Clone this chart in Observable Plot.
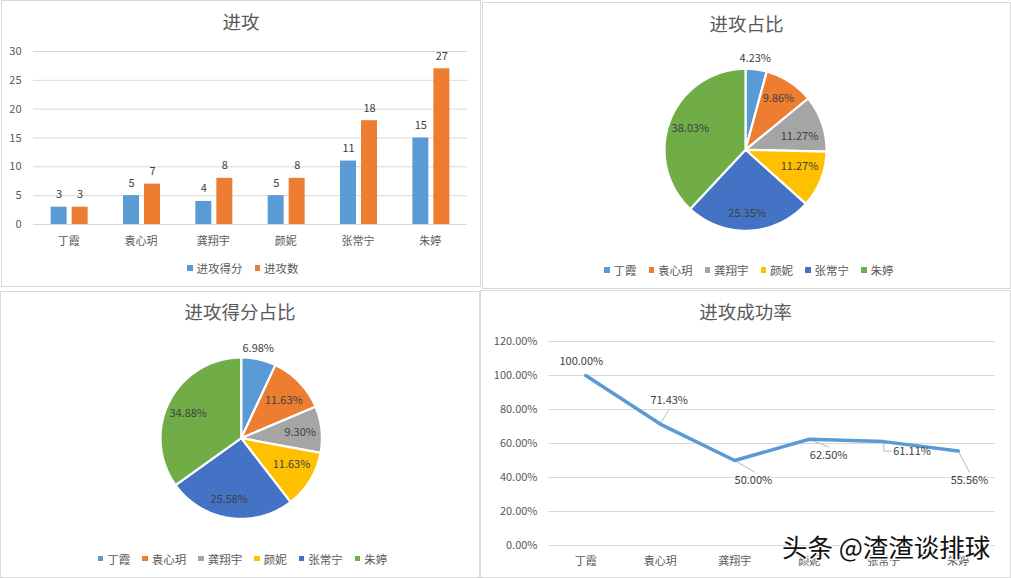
<!DOCTYPE html>
<html><head><meta charset="utf-8">
<script src="https://cdn.jsdelivr.net/npm/d3@7"></script>
<script src="https://cdn.jsdelivr.net/npm/@observablehq/plot@0.6"></script>
<style>
html,body{margin:0;padding:0;background:#fff;width:1011px;height:578px;overflow:hidden;font-family:"Noto Sans CJK SC","Noto Sans",sans-serif;}
.panel{position:absolute;box-sizing:border-box;border:1px solid #d9d9d9;background:#fff;}
.panel svg{position:absolute;left:0;top:0;}
.ttl{position:absolute;left:0;right:0;text-align:center;font-size:18.5px;line-height:24px;color:#595959;}
.leg{position:absolute;height:16px;display:flex;align-items:center;font-size:11.5px;line-height:16px;color:#595959;white-space:nowrap;}
.leg i{display:inline-block;width:5.5px;height:5.5px;margin-right:4px;}
.leg span{display:flex;align-items:center;}
#wm{position:absolute;left:782px;top:529px;font-size:25.5px;line-height:34px;color:#111;white-space:nowrap;-webkit-text-stroke:2.5px #fff;paint-order:stroke fill;font-weight:400;}
</style></head><body>
<script>
const names = ["丁霞","袁心玥","龚翔宇","颜妮","张常宁","朱婷"];
const attackScores = [3,5,4,5,11,15];
const attackCounts = [3,7,8,8,18,27];
const successRates = [100,71.43,50,62.5,61.11,55.56];
const sliceColors = ["#5B9BD5","#ED7D31","#A5A5A5","#FFC000","#4472C4","#70AD47"];
const countLabelX = [.12,.407,.667,.667,.02,-.68];
const countLabelY = [1.126,.632,.163,-.207,-.788,.258];
const scoreLabelX = [.211,.528,.731,.623,-.149,-.657];
const scoreLabelY = [1.11,.467,.071,-.326,-.763,.306];
const rateLabelX = [-.06,1.12,2.25,3.26,4.38,5.15];
const rateLabelY = [108.4,85.5,38.4,53.1,55.5,38.4];
const leaderPaths = [
  [[1,71.43],[1.11,79.6]],
  [[2,50],[2.26,43.3]],
  [[3,62.5],[3.26,58]],
  [[4,61.11],[4,55.5],[4.1,55.5]],
  [[5,55.56],[5.15,43.2]]
];
const FONT = '"Noto Sans CJK SC","Noto Sans",sans-serif';
const INK = "#595959", DARK = "#404040", GRID = "#d9d9d9";

function panel(x,y,w,h,title,titleTop){
  const p = document.createElement("div");
  p.className = "panel";
  p.style.cssText = `left:${x}px;top:${y}px;width:${w}px;height:${h}px`;
  const t = document.createElement("div");
  t.className = "ttl"; t.textContent = title; t.style.top = titleTop+"px";
  p.append(t);
  document.body.append(p);
  return p;
}
function legend(p,left,top,items){
  const l = document.createElement("div");
  l.className = "leg"; l.style.left = left+"px"; l.style.top = top+"px";
  items.forEach(([name,color],i)=>{
    const s = document.createElement("span");
    if(i) s.style.marginLeft = "12px";
    const k = document.createElement("i"); k.style.background = color;
    s.append(k, name);
    l.append(s);
  });
  p.append(l);
}
const style = {fontFamily:FONT,fontSize:"11px",color:INK,background:"transparent",overflow:"visible"};
const pct = d3.format(".2f");

function bars(p,w,h){
  const rows = names.map((name,i)=>({name,score:attackScores[i],count:attackCounts[i]}));
  p.append(Plot.plot({
    width:w,height:h,marginLeft:31,marginRight:w-465,marginTop:50,marginBottom:h-223,style,
    x:{domain:names,paddingInner:.779,paddingOuter:.389,round:false,label:null},
    y:{domain:[0,30],label:null},
    marks:[
      Plot.gridY([0,5,10,15,20,25,30],{stroke:GRID,strokeOpacity:1}),
      Plot.axisY({ticks:[0,5,10,15,20,25,30],tickSize:0,tickPadding:12,label:null,fontSize:11}),
      Plot.axisX({tickSize:0,tickPadding:13,label:null,fontSize:11,dx:-1}),
      Plot.barY(rows,{x:"name",y:"score",fill:sliceColors[0],dx:-10.5}),
      Plot.barY(rows,{x:"name",y:"count",fill:sliceColors[1],dx:10.5}),
      Plot.text(rows,{x:"name",y:"score",text:"score",dx:-10.5,dy:-12.5,fill:DARK,fontSize:11}),
      Plot.text(rows,{x:"name",y:"count",text:"count",dx:10.5,dy:-12.5,fill:DARK,fontSize:11})
    ]
  }));
}

function pie(p,w,h,cx,cy,r,values,labelX,labelY){
  const total = d3.sum(values);
  let acc = 0;
  const ring = [], labels = [];
  values.forEach((v,i)=>{
    const a0 = acc/total*2*Math.PI; acc += v;
    const a1 = acc/total*2*Math.PI;
    const n = Math.max(2,Math.ceil((a1-a0)*60));
    ring.push({name:names[i],px:0,py:0});
    for(let k=0;k<=n;k++){
      const a = a0+(a1-a0)*k/n;
      ring.push({name:names[i],px:Math.sin(a),py:Math.cos(a)});
    }
    labels.push({px:labelX[i],py:labelY[i],text:pct(v/total*100)+"%"});
  });
  p.append(Plot.plot({
    width:w,height:h,margin:0,style,
    x:{domain:[-1,1],range:[cx-r,cx+r],axis:null},
    y:{domain:[-1,1],range:[cy+r,cy-r],axis:null},
    color:{domain:names,range:sliceColors},
    marks:[
      Plot.line(ring,{x:"px",y:"py",z:"name",fill:"name",stroke:"#fff",strokeWidth:2.2,curve:"linear-closed"}),
      Plot.text(labels,{x:"px",y:"py",text:"text",fill:DARK,fontSize:11,dy:-.5})
    ]
  }));
}

function rates(p,w,h){
  const pts = successRates.map((v,i)=>({i,v,label:pct(v)+"%",lx:rateLabelX[i],ly:rateLabelY[i]}));
  const leaders = leaderPaths.flatMap((path,z)=>path.map(([i,v])=>({z,i,v})));
  const yt = [0,20,40,60,80,100,120];
  p.append(Plot.plot({
    width:w,height:h,marginLeft:67,marginRight:w-514,marginTop:50,marginBottom:h-254,style,
    x:{domain:[-.5,5.5],label:null},
    y:{domain:[0,120],label:null},
    marks:[
      Plot.gridY(yt,{stroke:GRID,strokeOpacity:1}),
      Plot.axisY({ticks:yt,tickSize:0,tickPadding:11,label:null,fontSize:11,tickFormat:d=>pct(d)+"%"}),
      Plot.axisX({ticks:[0,1,2,3,4,5],tickSize:0,tickPadding:12,label:null,fontSize:11,tickFormat:i=>names[i]}),
      Plot.line(leaders,{x:"i",y:"v",z:"z",stroke:"#a6a6a6",strokeWidth:.8}),
      Plot.line(pts,{x:"i",y:"v",stroke:sliceColors[0],strokeWidth:3.5}),
      Plot.text(pts,{x:"lx",y:"ly",text:"label",fill:DARK,fontSize:11})
    ]
  }));
}

const p1 = panel(1,0,480,287,"进攻",8);
bars(p1,478,285);
legend(p1,185,259,[["进攻得分",sliceColors[0]],["进攻数",sliceColors[1]]]);

const p2 = panel(482,2,529,287,"进攻占比",8);
pie(p2,527,285,262,146.3,81,attackCounts,countLabelX,countLabelY);
legend(p2,121,259,names.map((n,i)=>[n,sliceColors[i]]));

const p3 = panel(0,291,480,287,"进攻得分占比",7);
pie(p3,478,285,239.7,145.7,80.7,attackScores,scoreLabelX,scoreLabelY);
legend(p3,96.7,258.5,names.map((n,i)=>[n,sliceColors[i]]));

const p4 = panel(480,290,531,288,"进攻成功率",8);
rates(p4,529,286);

const wm = document.createElement("div");
wm.id = "wm"; wm.textContent = "头条 @渣渣谈排球";
document.body.append(wm);
</script>
</body></html>
